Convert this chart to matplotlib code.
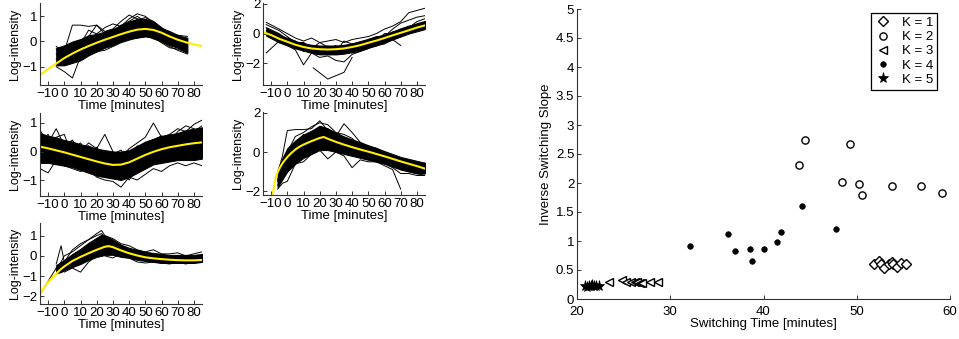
import numpy as np
import matplotlib
matplotlib.use("Agg")
import matplotlib.pyplot as plt

nan = np.nan
plt.rcParams['font.family'] = ['Liberation Sans', 'DejaVu Sans']
plt.rcParams['font.size'] = 9

# ---------------- left panels: profile data ----------------
xticks_time = [-10, 0, 10, 20, 30, 40, 50, 60, 70, 80]

# panel 1
p1_t = [-5, 0, 5, 10, 15, 20, 25, 30, 35, 40, 45, 50, 55, 60, 65, 70, 76]
p1_hi = [-0.25, -0.15, 0.0, 0.1, 0.25, 0.3, 0.4, 0.5, 0.65, 0.8, 0.9, 0.9, 0.8, 0.55, 0.4, 0.25, 0.15]
p1_lo = [-0.95, -0.95, -0.85, -0.75, -0.55, -0.4, -0.25, -0.15, 0.0, 0.1, 0.15, 0.2, 0.15, 0.0, -0.15, -0.25, -0.45]
p1_lines = [
    [-0.2, -0.4, 0.65, 0.65, 0.6, 0.65, 0.4, 0.5, 0.8, 1.05, 0.9, 0.85, 0.7, 0.55, 0.3, 0.25, 0.2],
    [-1.0, -1.2, -1.45, -0.6, -0.5, -0.35, -0.2, -0.1, 0.1, 0.2, 0.3, 0.25, 0.1, 0.0, -0.2, -0.35, -0.5],
    [-0.5, -0.9, -0.6, -0.3, 0.2, 0.65, 0.3, 0.45, 0.6, 0.9, 1.1, 1.0, 0.75, 0.5, 0.4, 0.25, 0.05],
    [-0.7, -0.5, -0.2, 0.05, 0.1, 0.3, 0.55, 0.7, 0.6, 0.75, 0.85, 0.95, 0.8, 0.55, 0.3, 0.1, -0.1],
    [-0.9, -0.95, -0.8, -0.7, -0.55, -0.4, -0.35, -0.2, -0.05, 0.05, 0.15, 0.2, 0.15, -0.05, -0.25, -0.3, -0.45],
    [-0.3, -0.6, -0.2, -0.1, 0.45, 0.3, 0.2, 0.4, 0.65, 0.8, 1.0, 0.8, 0.65, 0.35, 0.3, 0.1, -0.2],
]
p1_fit_t = [-15, -10, -5, 0, 5, 10, 15, 20, 25, 30, 35, 40, 45, 50, 55, 60, 65, 70, 75, 80, 85]
p1_fit = [-1.33, -1.1, -0.88, -0.66, -0.48, -0.32, -0.18, -0.05, 0.07, 0.18, 0.29, 0.39, 0.47, 0.5, 0.46, 0.35, 0.2, 0.07, -0.03, -0.12, -0.18]

# panel 2
p2_t = [-13, -5, 0, 5, 10, 15, 20, 25, 30, 35, 40, 45, 50, 55, 60, 65, 70, 75, 80, 85]
p2_hi = [0.4, -0.05, -0.3, -0.5, -0.65, -0.75, -0.8, -0.8, -0.8, -0.75, -0.65, -0.5, -0.35, -0.2, -0.05, 0.15, 0.35, 0.5, 0.7, 0.85]
p2_lo = [-0.15, -0.6, -0.8, -1.0, -1.15, -1.3, -1.4, -1.4, -1.4, -1.35, -1.25, -1.1, -0.95, -0.8, -0.6, -0.4, -0.2, 0.0, 0.15, 0.3]
p2_lines = [
    [0.75, 0.3, 0.0, -0.3, -0.5, -0.3, -0.6, -0.5, -0.4, -0.6, -0.4, -0.3, -0.2, 0.0, 0.3, 0.5, 0.8, 1.4, 1.55, 1.7],
    [-1.3, -0.5, -0.8, -1.1, -2.1, -1.3, -1.6, -1.5, -1.8, -1.9, -1.4, -1.2, -1.0, -0.8, -0.7, -0.4, -0.2, 0.1, 0.3, 0.3],
    [0.6, 0.2, -0.2, -0.6, -0.9, -1.0, -0.6, -0.9, -1.2, -0.5, -0.7, -0.8, -0.5, -0.4, -0.2, 0.3, 0.7, 0.9, 1.1, 1.2],
    [0.2, -0.1, -0.5, -0.7, -0.6, -1.3, -1.4, -1.0, -0.8, -1.3, -1.0, -0.6, -0.7, -0.5, 0.0, 0.0, 0.3, 0.5, 0.6, 0.7],
    [nan, -0.6, -0.3, -0.5, -1.2, -0.8, -0.9, -1.4, -1.0, -0.9, -0.8, -0.9, -0.4, -0.2, -0.3, 0.1, 0.2, 0.4, 0.8, 1.0],
    [0.4, 0.0, -0.4, -0.6, -0.6, -0.9, -0.9, -1.0, -1.2, -1.1, -1.3, -1.2, -1.0, -0.6, -0.4, -0.4, -0.8, nan, nan, nan],
]
p2_out_t = [16, 25, 35, 40]
p2_out = [-2.3, -3.05, -2.6, -1.6]
p2_fit_t = [-15, -10, -5, 0, 5, 10, 15, 20, 25, 30, 35, 40, 45, 50, 55, 60, 65, 70, 75, 80, 85]
p2_fit = [0.1, -0.1, -0.35, -0.55, -0.75, -0.9, -1.0, -1.05, -1.07, -1.05, -1.0, -0.9, -0.78, -0.62, -0.47, -0.3, -0.12, 0.05, 0.22, 0.4, 0.55]

# panel 3
p3_t = [-15, -10, -5, 0, 5, 10, 15, 20, 25, 30, 35, 40, 45, 50, 55, 60, 65, 70, 75, 80, 85]
p3_hi = [0.65, 0.55, 0.5, 0.4, 0.35, 0.25, 0.2, 0.1, 0.05, 0.0, 0.0, 0.05, 0.2, 0.35, 0.45, 0.55, 0.6, 0.65, 0.75, 0.8, 0.85]
p3_lo = [-0.4, -0.4, -0.45, -0.5, -0.55, -0.65, -0.75, -0.85, -0.9, -0.95, -1.0, -0.9, -0.75, -0.6, -0.45, -0.4, -0.35, -0.3, -0.3, -0.3, -0.25]
p3_lines = [
    [0.75, 0.3, 0.8, 0.2, 0.4, 0.0, 0.3, 0.1, 0.6, 0.0, -0.2, 0.1, 0.3, 0.5, 1.0, 0.5, 0.6, 0.8, 0.7, 0.95, 1.1],
    [-0.6, -0.75, -0.3, -0.5, -0.6, -0.7, -0.6, -0.9, -1.0, -1.05, -1.25, -0.9, -1.0, -0.8, -0.6, -0.7, -0.5, -0.4, -0.5, -0.4, -0.5],
    [0.4, 0.6, 0.1, 0.35, 0.1, 0.3, -0.1, 0.15, -0.2, -0.1, 0.05, -0.3, 0.2, 0.0, 0.4, 0.55, 0.3, 0.7, 0.9, 0.8, 0.6],
    [-0.2, 0.1, -0.4, -0.1, 0.2, -0.5, -0.3, -0.6, -0.3, -0.7, -0.5, -0.6, -0.3, 0.3, -0.1, 0.2, 0.6, 0.3, 0.5, 0.7, 0.9],
    [0.3, -0.1, 0.5, 0.6, -0.2, 0.1, -0.4, -0.2, -0.9, -0.4, -0.9, -0.4, -0.5, -0.3, 0.0, -0.2, 0.1, 0.0, -0.3, 0.2, -0.2],
    [0.1, 0.5, 0.0, -0.3, 0.0, -0.3, 0.2, -0.5, -0.5, -0.8, -0.6, -1.0, -0.6, -0.1, 0.1, 0.4, 0.2, 0.5, 0.4, 0.5, 0.4],
]
p3_fit_t = p3_t
p3_fit = [0.17, 0.11, 0.04, -0.03, -0.11, -0.19, -0.27, -0.35, -0.42, -0.47, -0.46, -0.38, -0.25, -0.12, -0.01, 0.08, 0.15, 0.2, 0.25, 0.29, 0.32]

# panel 4
p4_t = [-6, -3, 0, 5, 10, 15, 20, 25, 30, 35, 40, 45, 50, 55, 60, 65, 70, 75, 80, 85]
p4_hi = [-0.9, -0.3, 0.2, 0.6, 0.9, 1.1, 1.35, 1.2, 1.0, 0.8, 0.65, 0.5, 0.35, 0.2, 0.05, -0.1, -0.25, -0.35, -0.45, -0.55]
p4_lo = [-1.8, -1.4, -1.0, -0.6, -0.3, -0.1, 0.1, 0.1, 0.0, -0.1, -0.2, -0.3, -0.4, -0.5, -0.6, -0.75, -0.9, -1.0, -1.1, -1.1]
p4_lines = [
    [-1.1, -0.2, 1.1, 1.15, 1.15, 1.2, 1.6, 1.1, 0.8, 1.45, 1.0, 0.5, 0.3, 0.2, 0.0, -0.3, -0.4, -0.6, -0.7, -0.55],
    [-1.9, -1.6, -1.5, -0.6, -0.5, -0.1, 0.1, -0.35, 0.0, -0.2, -0.8, -0.4, -0.5, -0.5, -0.7, -0.9, -1.9, nan, nan, nan],
    [-1.4, -1.0, 0.0, 0.8, 1.0, 1.3, 1.5, 1.4, 1.0, 0.9, 0.7, 0.3, 0.3, 0.0, -0.2, -0.3, -0.5, -0.8, -1.1, -1.2],
    [-1.7, -1.1, -0.5, 0.2, 0.3, 0.4, 0.2, 0.6, 0.4, 0.3, -0.2, -0.1, -0.3, -0.5, -0.6, -0.8, -1.1, -1.1, -1.2, -1.2],
    [nan, -1.3, -0.6, 0.5, 0.9, 0.8, 1.3, 1.2, 0.9, 0.5, 0.4, 0.5, 0.1, 0.0, -0.1, -0.5, -0.4, -0.7, -0.8, -0.6],
    [-1.5, -0.8, -0.2, 0.0, -0.2, 0.6, 0.9, 0.7, 0.6, 0.7, 0.5, 0.2, -0.1, -0.2, -0.4, -0.5, -0.7, -1.0, -1.0, -0.9],
]
p4_fit_t = [-9, -8.5, -8, -7.5, -7, -6, -5, -4, -3, -2, 0, 2.5, 5, 7.5, 10, 15, 20, 22.5, 25, 30, 35, 40, 45, 50, 55, 60, 65, 70, 75, 80, 85]
p4_fit = [-2.2, -1.9, -1.65, -1.45, -1.3, -1.05, -0.87, -0.72, -0.58, -0.47, -0.26, -0.05, 0.13, 0.27, 0.38, 0.56, 0.72, 0.77, 0.68, 0.52, 0.38, 0.25, 0.13, 0.02, -0.1, -0.22, -0.35, -0.48, -0.6, -0.72, -0.85]

# panel 5
p5_t = [-5, -2, 0, 5, 10, 15, 20, 23, 25, 30, 35, 40, 45, 50, 55, 60, 65, 70, 75, 80, 85]
p5_hi = [-0.45, -0.3, -0.2, 0.1, 0.35, 0.65, 0.9, 1.05, 1.0, 0.8, 0.55, 0.4, 0.3, 0.2, 0.15, 0.1, 0.05, 0.05, 0.05, 0.05, 0.1]
p5_lo = [-0.85, -0.8, -0.7, -0.55, -0.4, -0.2, -0.05, 0.0, 0.05, 0.05, -0.05, -0.1, -0.2, -0.25, -0.3, -0.35, -0.35, -0.35, -0.35, -0.35, -0.3]
p5_lines = [
    [-0.4, 0.5, -0.3, 0.3, 0.6, 0.8, 1.1, 1.25, 1.0, 0.85, 0.6, 0.5, 0.3, 0.2, 0.3, 0.1, 0.1, 0.15, 0.0, 0.1, 0.2],
    [-0.9, -0.6, -0.8, -0.6, -0.8, -0.3, 0.0, 0.3, 0.0, -0.1, 0.1, -0.1, -0.3, -0.35, -0.3, -0.35, -0.4, -0.3, -0.4, -0.3, -0.3],
    [-0.6, -0.3, 0.0, 0.2, 0.5, 0.8, 1.0, 1.1, 0.9, 0.7, 0.5, 0.3, 0.1, 0.0, -0.1, -0.1, -0.2, -0.2, -0.1, -0.2, 0.0],
    [-0.7, -0.5, -0.6, -0.1, 0.1, 0.2, 0.4, 0.6, 0.7, 0.5, 0.3, 0.15, 0.15, -0.1, 0.05, -0.25, -0.1, 0.0, -0.3, -0.25, -0.2],
]
p5_out_t = [-15, -5, 0]
p5_out = [-1.9, -0.6, -0.5]
p5_fit_t = [-15, -12.5, -10, -7.5, -5, -2.5, 0, 5, 10, 15, 20, 25, 27.5, 30, 35, 40, 45, 50, 55, 60, 65, 70, 75, 80, 85]
p5_fit = [-1.9, -1.55, -1.3, -1.08, -0.88, -0.68, -0.52, -0.25, -0.05, 0.13, 0.3, 0.45, 0.48, 0.43, 0.27, 0.13, 0.02, -0.07, -0.12, -0.16, -0.19, -0.21, -0.22, -0.22, -0.2]

# ---------------- right panel: switching data ----------------
k1_x = [51.84, 52.38, 52.59, 52.95, 53.42, 53.74, 53.92, 54.28, 54.74, 55.24]
k1_y = [0.61, 0.65, 0.61, 0.53, 0.61, 0.63, 0.61, 0.56, 0.62, 0.61]
k2_x = [43.76, 44.44, 49.23, 48.41, 50.23, 50.59, 53.74, 56.92, 59.1]
k2_y = [2.31, 2.74, 2.67, 2.01, 1.98, 1.79, 1.95, 1.95, 1.83]
k3_x = [23.4, 24.87, 25.22, 25.83, 26.19, 26.44, 26.73, 27.01, 27.87, 28.69]
k3_y = [0.29, 0.32, 0.30, 0.30, 0.29, 0.29, 0.28, 0.28, 0.30, 0.30]
k4_x = [32.13, 36.17, 36.92, 38.57, 38.78, 40.0, 41.47, 41.93, 44.15, 47.73]
k4_y = [0.91, 1.12, 0.82, 0.87, 0.65, 0.87, 0.99, 1.15, 1.61, 1.20]
k5_x = [20.82, 21.07, 21.29, 21.47, 21.65, 21.82, 22.08, 22.36]
k5_y = [0.22, 0.21, 0.23, 0.22, 0.24, 0.22, 0.23, 0.22]

W, H = 959, 339
fig = plt.figure(figsize=(W / 100, H / 100), dpi=100)

def px_axes(x0, y0, x1, y1):
    return fig.add_axes([x0 / W, 1 - y1 / H, (x1 - x0) / W, (y1 - y0) / H])

def style(ax, xpad=2):
    for s in ['top', 'right']:
        ax.spines[s].set_visible(False)
    for s in ['left', 'bottom']:
        ax.spines[s].set_color('#333333')
        ax.spines[s].set_linewidth(0.8)
    ax.tick_params(direction='in', length=3, width=0.7, color='#333333', labelsize=9.5)
    ax.tick_params(axis='x', pad=xpad)
    ax.tick_params(axis='y', pad=2)

panels = [
    (px_axes(40, 3, 202, 85), p1_t, p1_hi, p1_lo, p1_lines, None, None, p1_fit_t, p1_fit, (-1.73, 1.53), [-1, 0, 1]),
    (px_axes(263, 3, 425, 85), p2_t, p2_hi, p2_lo, p2_lines, p2_out_t, p2_out, p2_fit_t, p2_fit, (-3.45, 2.05), [-2, 0, 2]),
    (px_axes(40, 113, 202, 196), p3_t, p3_hi, p3_lo, p3_lines, None, None, p3_fit_t, p3_fit, (-1.56, 1.35), [-1, 0, 1]),
    (px_axes(263, 112, 425, 195), p4_t, p4_hi, p4_lo, p4_lines, None, None, p4_fit_t, p4_fit, (-2.2, 2.05), [-2, 0, 2]),
    (px_axes(40, 223, 202, 304), p5_t, p5_hi, p5_lo, p5_lines, p5_out_t, p5_out, p5_fit_t, p5_fit, (-2.37, 1.62), [-2, -1, 0, 1]),
]

for ax, t, hi, lo, lines, ot, oy, ft, fy, ylim, yt in panels:
    ax.fill_between(t, lo, hi, color='black', lw=0.7)
    for ln in lines:
        ax.plot(t, ln, color='black', lw=0.7)
    if ot is not None:
        ax.plot(ot, oy, color='black', lw=0.7)
    ax.plot(ft, fy, color='#ffee00', lw=1.5)
    ax.set_xlim(-15, 85)
    ax.set_ylim(*ylim)
    ax.set_xticks(xticks_time)
    ax.set_yticks(yt)
    ax.set_xlabel('Time [minutes]', fontsize=9.5, labelpad=0)
    ax.set_ylabel('Log-intensity', fontsize=9, labelpad=1)
    style(ax)

# right scatter
ax = px_axes(577, 9, 950, 299)
mk = dict(ls='none', color='black', mec='black')
ax.plot(k1_x, k1_y, marker='D', ms=5, mfc='white', mew=1.0, label='K = 1', **mk)
ax.plot(k2_x, k2_y, marker='o', ms=5.2, mfc='white', mew=1.0, label='K = 2', **mk)
ax.plot(k3_x, k3_y, marker='<', ms=5.5, mfc='white', mew=1.0, label='K = 3', **mk)
ax.plot(k4_x, k4_y, marker='o', ms=4, mfc='black', mew=0.5, label='K = 4', **mk)
ax.plot(k5_x, k5_y, marker='*', ms=8, mfc='black', mew=0.5, label='K = 5', **mk)
ax.set_xlim(20, 60)
ax.set_ylim(0, 5)
ax.set_xticks([20, 30, 40, 50, 60])
ax.set_yticks([0, 0.5, 1, 1.5, 2, 2.5, 3, 3.5, 4, 4.5, 5])
ax.set_yticklabels(['0', '0.5', '1', '1.5', '2', '2.5', '3', '3.5', '4', '4.5', '5'])
ax.set_xlabel('Switching Time [minutes]', fontsize=9.5, labelpad=0)
ax.set_ylabel('Inverse Switching Slope', fontsize=9.5, labelpad=3)
style(ax, xpad=5)
leg = ax.legend(loc='upper right', bbox_to_anchor=(0.965, 0.987), fontsize=9.5,
                frameon=True, fancybox=False, framealpha=1, edgecolor='black',
                labelspacing=0.15, handlelength=1.2, handletextpad=0.8,
                borderpad=0.3, borderaxespad=0)
leg.get_frame().set_linewidth(0.9)

fig.savefig('out.png', dpi=100)
